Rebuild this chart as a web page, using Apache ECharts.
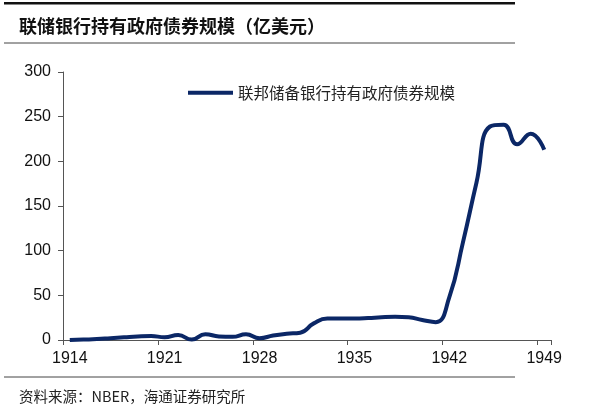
<!DOCTYPE html>
<html>
<head>
<meta charset="utf-8">
<script src="https://cdn.jsdelivr.net/npm/echarts@6/dist/echarts.min.js"></script>
<style>
html,body{margin:0;padding:0;background:#fff;}
#chart{width:614px;height:409px;}
</style>
</head>
<body>
<div id="chart"></div>
<script>
var years = [];
for (var y = 1914; y <= 1949; y++) years.push(String(y));
var holdings = [0, 0.5, 1, 2, 3, 4, 4.5, 3, 5.5, 0.5, 6.5, 4, 3.5, 6.5, 2,
  5, 7, 8.2, 18.6, 24, 24, 24, 24.5, 25.5, 26, 25.5, 22.4, 20,
  48, 109, 176, 239, 241, 219, 231, 213];
var yTicks = { min: 0, max: 300, interval: 50 };
var titleText = '联储银行持有政府债券规模（亿美元）';
var seriesName = '联邦储备银行持有政府债券规模';
var sourceText = '资料来源：NBER，海通证券研究所';

var chart = echarts.init(document.getElementById('chart'));
chart.setOption({
  animation: false,
  backgroundColor: '#fff',
  title: [
    { text: titleText, left: 14, top: 12,
      textStyle: { fontFamily: 'Noto Sans CJK SC', fontSize: 18, fontWeight: 'bold', color: '#111' } },
    { text: sourceText, left: 14, top: 384,
      textStyle: { fontFamily: 'Noto Sans CJK SC', fontSize: 14.5, fontWeight: 'normal', color: '#222' } }
  ],
  graphic: [
    { type: 'rect', shape: { x: 4, y: 2, width: 511, height: 2.5 }, style: { fill: '#111' } },
    { type: 'line', shape: { x1: 4, y1: 43, x2: 515, y2: 43 }, style: { stroke: '#444', lineWidth: 1 } },
    { type: 'line', shape: { x1: 4, y1: 377, x2: 515, y2: 377 }, style: { stroke: '#444', lineWidth: 1 } }
  ],
  legend: {
    data: [seriesName],
    left: 183, top: 80,
    itemWidth: 45, itemHeight: 4, itemGap: 6,
    icon: 'rect',
    textStyle: { fontFamily: 'Noto Sans CJK SC', fontSize: 15.5, color: '#222' }
  },
  grid: { left: 63, right: 63, top: 72, bottom: 69 },
  xAxis: {
    type: 'category',
    data: years,
    boundaryGap: true,
    axisLine: { lineStyle: { color: '#555', width: 1 } },
    axisTick: { show: true, length: 5, interval: 6, lineStyle: { color: '#555' } },
    axisLabel: { interval: 6, margin: 11, fontFamily: 'Liberation Sans', fontSize: 16, color: '#111' },
    splitLine: { show: false }
  },
  yAxis: {
    type: 'value',
    min: yTicks.min, max: yTicks.max, interval: yTicks.interval,
    axisLine: { show: true, lineStyle: { color: '#555', width: 1 } },
    axisTick: { show: true, length: 5, lineStyle: { color: '#555' } },
    axisLabel: { margin: 12, fontFamily: 'Liberation Sans', fontSize: 16, color: '#111' },
    splitLine: { show: false }
  },
  series: [{
    name: seriesName,
    type: 'line',
    data: holdings,
    smooth: 0.5,
    symbol: 'none',
    lineStyle: { color: '#0b2766', width: 4 },
    itemStyle: { color: '#0b2766' }
  }]
});
</script>
</body>
</html>
